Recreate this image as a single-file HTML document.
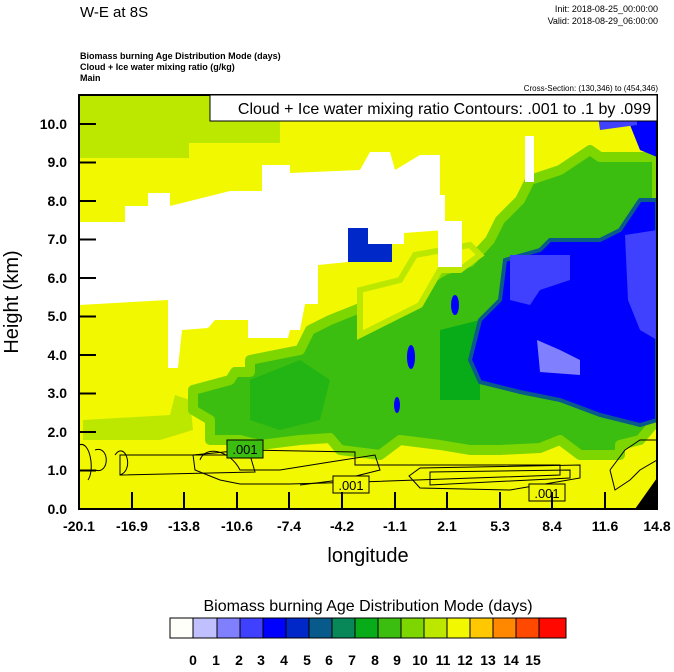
<!DOCTYPE html>
<html><head><meta charset="utf-8"><style>
body{margin:0;background:#fff;width:674px;height:667px;overflow:hidden}
svg text{font-family:"Liberation Sans",sans-serif}
</style></head><body>
<svg width="674" height="667" xmlns="http://www.w3.org/2000/svg">
<text x="80" y="17" font-size="15">W-E at 8S</text>
<text x="658" y="12" font-size="9" text-anchor="end">Init: 2018-08-25_00:00:00</text>
<text x="658" y="24" font-size="9" text-anchor="end">Valid: 2018-08-29_06:00:00</text>
<g font-size="9" font-weight="bold">
<text x="80" y="59">Biomass burning Age Distribution Mode    (days)</text>
<text x="80" y="70">Cloud + Ice water mixing ratio    (g/kg)</text>
<text x="80" y="81">Main</text>
</g>
<text x="658" y="91" font-size="8" text-anchor="end">Cross-Section: (130,346) to (454,346)</text>
<defs><clipPath id="c"><rect x="79" y="95" width="578" height="414"/></clipPath></defs>
<g clip-path="url(#c)">
<rect x="79" y="95" width="578" height="414" fill="#f2f800"/>
<polygon points="79,95 280,95 280,143 189,143 189,158 79,158" fill="#bce800"/>
<polygon points="83,420 170,415 175,395 190,400 193,430 160,440 83,440" fill="#bce800"/>
<polygon points="193,390 230,380 235,372 250,372 250,360 300,350 310,330 330,320 380,300 420,285 445,270 470,262 490,240 500,220 520,200 530,180 560,170 590,150 600,157 657,157 657,420 640,440 620,445 620,455 580,455 560,440 540,448 500,450 470,450 440,445 400,440 380,455 340,450 330,438 300,440 260,445 240,440 210,440 210,420 193,410" fill="#3cbe10" stroke="#7ed600" stroke-width="10" stroke-linejoin="round"/>
<polygon points="360,290 400,280 415,255 470,245 480,255 460,270 440,270 420,305 400,315 380,325 360,335" fill="#f2f800" stroke="#bce800" stroke-width="6"/>
<polygon points="250,380 300,360 330,380 320,420 280,430 250,420" fill="#08ac18" opacity=".5"/>
<polygon points="440,330 480,320 480,400 440,400" fill="#08ac18"/>
<polygon points="505,260 540,250 550,240 600,240 620,230 640,200 657,200 657,420 640,425 600,415 560,400 520,392 480,382 470,360 480,320 500,300" fill="#0000ff" stroke="#0a5a8a" stroke-width="4"/>
<polygon points="510,255 570,255 570,280 540,290 530,305 510,300" fill="#4040ff"/>
<polygon points="625,235 657,230 657,340 640,330 628,300" fill="#4040ff"/>
<polygon points="537,340 560,350 580,360 580,375 540,372" fill="#8080ff"/>
<polygon points="595,95 657,95 657,157 640,150 630,125 600,125" fill="#0000ff"/>
<polygon points="595,95 637,95 637,125 600,130" fill="#4040ff"/>
<polygon points="348,228 392,228 392,262 348,262" fill="#0028c8"/>
<ellipse cx="411" cy="357" rx="4" ry="12" fill="#0000ff"/>
<ellipse cx="455" cy="305" rx="4" ry="10" fill="#0000ff"/>
<ellipse cx="397" cy="405" rx="3" ry="8" fill="#0000ff"/>
<polygon points="125,206 148,206 148,193 170,193 170,206 230,191 262,191 262,165 290,165 290,173 360,170 370,152 390,152 395,170 420,155 440,155 440,195 445,195 445,230 404,233 404,244 368,244 368,228 348,228 348,262 318,265 318,304 305,304 300,330 290,330 288,338 248,338 248,320 215,320 208,328 182,330 178,368 168,368 168,300 79,305 79,222 125,222" fill="#fff"/>
<rect x="525" y="136" width="9" height="46" fill="#fff"/>
<rect x="438" y="221" width="24" height="46" fill="#fff"/>
<polygon points="635,509 657,478 657,509" fill="#000"/>
<g fill="none" stroke="#000" stroke-width="1">
<path d="M79,445 C90,440 95,470 88,480 M95,450 C110,445 110,475 95,470 M115,455 C125,440 135,470 120,475 M193,455 L245,450 L355,452 L355,465 L450,465 L560,465 L560,475 L360,482 L290,484 L240,484 L220,480 L195,470 Z"/>
<path d="M120,455 L250,455 L255,472 L120,475 Z"/>
<path d="M200,460 C205,445 230,450 240,470 L280,470 L330,462 L375,455 L380,470 L340,480 L300,485"/>
<path d="M409,476 L420,468 L580,465 L580,478 L510,490 L420,488 Z"/>
<path d="M430,472 L570,470 L570,478 L430,485 Z"/>
<path d="M610,470 L625,450 L640,440 L657,440 M610,470 L615,490 L630,480 L640,470 L657,460"/>
</g>
<rect x="227" y="440" width="36" height="18" fill="#3cbe10" stroke="#000"/>
<text x="245" y="454" font-size="13" text-anchor="middle">.001</text>
<rect x="333" y="476" width="36" height="17" fill="#f2f800" stroke="#000"/>
<text x="351" y="490" font-size="13" text-anchor="middle">.001</text>
<rect x="529" y="484" width="36" height="17" fill="#f2f800" stroke="#000"/>
<text x="547" y="498" font-size="13" text-anchor="middle">.001</text>
</g>
<rect x="79" y="95" width="578" height="414" fill="none" stroke="#000" stroke-width="2"/>
<rect x="210" y="95" width="447" height="26" fill="#fff" stroke="#000" stroke-width="1"/>
<text x="651" y="114" font-size="16" text-anchor="end">Cloud + Ice water mixing ratio Contours: .001 to .1 by .099</text>
<g stroke="#000" stroke-width="2">
<line x1="79" y1="470.5" x2="96" y2="470.5"/><line x1="79" y1="432" x2="96" y2="432"/><line x1="79" y1="393.5" x2="96" y2="393.5"/><line x1="79" y1="355" x2="96" y2="355"/><line x1="79" y1="316.5" x2="96" y2="316.5"/><line x1="79" y1="278" x2="96" y2="278"/><line x1="79" y1="239.5" x2="96" y2="239.5"/><line x1="79" y1="201" x2="96" y2="201"/><line x1="79" y1="162.5" x2="96" y2="162.5"/><line x1="79" y1="124" x2="96" y2="124"/>
<line x1="132" y1="509" x2="132" y2="492"/><line x1="184" y1="509" x2="184" y2="492"/><line x1="237" y1="509" x2="237" y2="492"/><line x1="289" y1="509" x2="289" y2="492"/><line x1="342" y1="509" x2="342" y2="492"/><line x1="395" y1="509" x2="395" y2="492"/><line x1="447" y1="509" x2="447" y2="492"/><line x1="500" y1="509" x2="500" y2="492"/><line x1="552" y1="509" x2="552" y2="492"/><line x1="605" y1="509" x2="605" y2="492"/>
</g>
<g font-size="14" text-anchor="end" font-weight="bold">
<text x="67" y="514">0.0</text><text x="67" y="475">1.0</text><text x="67" y="437">2.0</text><text x="67" y="398">3.0</text><text x="67" y="360">4.0</text><text x="67" y="321">5.0</text><text x="67" y="283">6.0</text><text x="67" y="244">7.0</text><text x="67" y="206">8.0</text><text x="67" y="167">9.0</text><text x="67" y="129">10.0</text>
</g>
<g font-size="14" text-anchor="middle" font-weight="bold">
<text x="79" y="531">-20.1</text><text x="132" y="531">-16.9</text><text x="184" y="531">-13.8</text><text x="237" y="531">-10.6</text><text x="289" y="531">-7.4</text><text x="342" y="531">-4.2</text><text x="395" y="531">-1.1</text><text x="447" y="531">2.1</text><text x="500" y="531">5.3</text><text x="552" y="531">8.4</text><text x="605" y="531">11.6</text><text x="657" y="531">14.8</text>
</g>
<text x="368" y="562" font-size="20" text-anchor="middle">longitude</text>
<text transform="translate(18,302) rotate(-90)" font-size="20" text-anchor="middle">Height (km)</text>
<text x="368" y="611" font-size="16" text-anchor="middle">Biomass burning Age Distribution Mode  (days)</text>
<g stroke="#000" stroke-width="1">
<rect x="170" y="618" width="23" height="20" fill="#fffffa"/><rect x="193" y="618" width="24" height="20" fill="#c0c0ff"/><rect x="217" y="618" width="23" height="20" fill="#8080ff"/><rect x="240" y="618" width="23" height="20" fill="#4040ff"/><rect x="263" y="618" width="23" height="20" fill="#0000ff"/><rect x="286" y="618" width="23" height="20" fill="#0028c8"/><rect x="309" y="618" width="23" height="20" fill="#085a8a"/><rect x="332" y="618" width="23" height="20" fill="#088858"/><rect x="355" y="618" width="23" height="20" fill="#08ac18"/><rect x="378" y="618" width="23" height="20" fill="#3cbe10"/><rect x="401" y="618" width="23" height="20" fill="#7ed600"/><rect x="424" y="618" width="23" height="20" fill="#bce800"/><rect x="447" y="618" width="23" height="20" fill="#f2f800"/><rect x="470" y="618" width="23" height="20" fill="#ffc800"/><rect x="493" y="618" width="23" height="20" fill="#ff8800"/><rect x="516" y="618" width="23" height="20" fill="#ff4800"/><rect x="539" y="618" width="27" height="20" fill="#ff0800"/>
</g>
<g font-size="14" text-anchor="middle" font-weight="bold">
<text x="193" y="665">0</text><text x="216" y="665">1</text><text x="239" y="665">2</text><text x="261" y="665">3</text><text x="284" y="665">4</text><text x="307" y="665">5</text><text x="329" y="665">6</text><text x="352" y="665">7</text><text x="375" y="665">8</text><text x="397" y="665">9</text><text x="420" y="665">10</text><text x="443" y="665">11</text><text x="465" y="665">12</text><text x="488" y="665">13</text><text x="511" y="665">14</text><text x="533" y="665">15</text>
</g>
</svg>
</body></html>
